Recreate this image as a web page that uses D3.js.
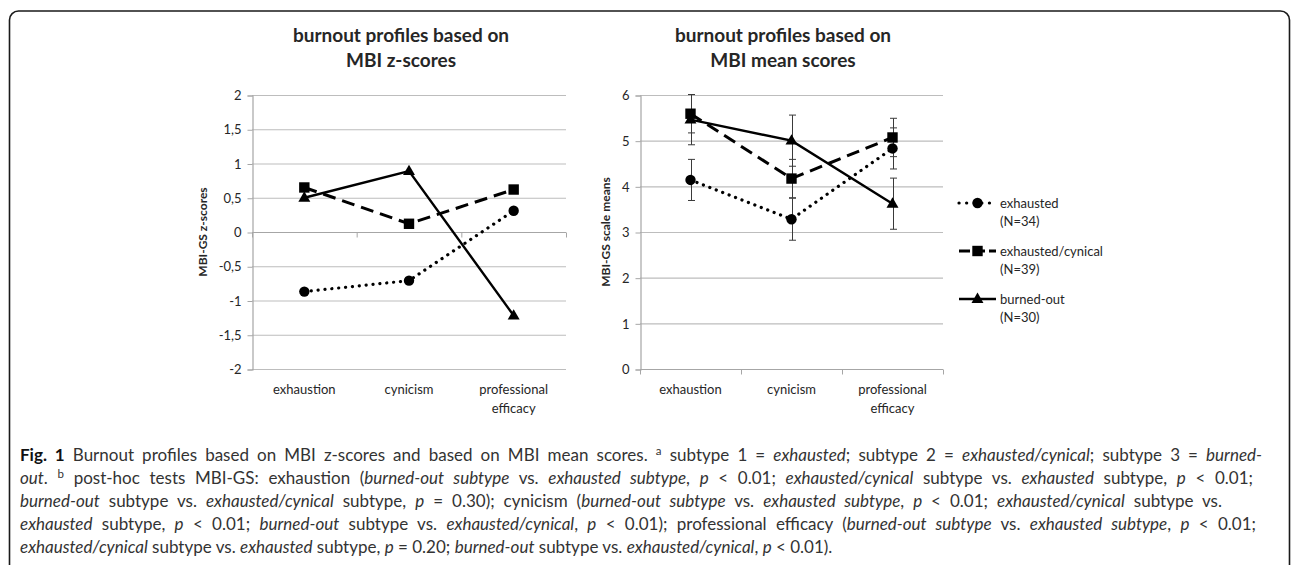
<!DOCTYPE html>
<html>
<head>
<meta charset="utf-8">
<script src="https://cdnjs.cloudflare.com/ajax/libs/d3/7.8.5/d3.min.js"></script>
<style>
  html, body { margin: 0; padding: 0; background: #fff; }
  svg { display: block; }
  .chart text { font-family: Lato, "Open Sans", sans-serif; fill: #262626; }
  .caption text { font-family: Lato, "Noto Sans", sans-serif; fill: #333; }
</style>
</head>
<body>
<svg id="fig" width="1292" height="565"></svg>
<script>
// values
var categories = ["exhaustion", "cynicism", "professional efficacy"];
var seriesNames = ["exhausted", "exhausted/cynical", "burned-out"];
var seriesN = [34, 39, 30];

// left panel: z-scores
var zExhausted = [-0.87, -0.71, 0.31];
var zExhaustedCynical = [0.65, 0.12, 0.62];
var zBurnedOut = [0.50, 0.89, -1.22];
var zTicks = [-2, -1.5, -1, -0.5, 0, 0.5, 1, 1.5, 2];

// right panel: scale means with error bars
var meanExhausted = [4.14, 3.28, 4.83];
var meanExhaustedCynical = [5.59, 4.17, 5.07];
var meanBurnedOut = [5.46, 5.00, 3.62];
var errExhausted = [0.45, 0.46, 0.45];
var errExhaustedCynical = [0.42, 0.42, 0.42];
var errBurnedOut = [0.55, 0.56, 0.56];
var meanTicks = [0, 1, 2, 3, 4, 5, 6];

// caption, line by line: [text, style]  (b = bold, i = italic, sup = superscript)
var captionLines = [
  [["Fig. 1", "b"], [" Burnout profiles based on MBI z-scores and based on MBI mean scores. "], ["a", "sup"], [" subtype 1 = "], ["exhausted", "i"], ["; subtype 2 = "], ["exhausted/cynical", "i"], ["; subtype 3 = "], ["burned-", "i"]],
  [["out", "i"], [". "], ["b", "sup"], [" post-hoc tests MBI-GS: exhaustion ("], ["burned-out subtype", "i"], [" vs. "], ["exhausted subtype", "i"], [", "], ["p", "i"], [" < 0.01; "], ["exhausted/cynical", "i"], [" subtype vs. "], ["exhausted", "i"], [" subtype, "], ["p", "i"], [" < 0.01;"]],
  [["burned-out", "i"], [" subtype vs. "], ["exhausted/cynical", "i"], [" subtype, "], ["p", "i"], [" = 0.30); cynicism ("], ["burned-out subtype", "i"], [" vs. "], ["exhausted subtype", "i"], [", "], ["p", "i"], [" < 0.01; "], ["exhausted/cynical", "i"], [" subtype vs."]],
  [["exhausted", "i"], [" subtype, "], ["p", "i"], [" < 0.01; "], ["burned-out", "i"], [" subtype vs. "], ["exhausted/cynical", "i"], [", "], ["p", "i"], [" < 0.01); professional efficacy ("], ["burned-out subtype", "i"], [" vs. "], ["exhausted subtype", "i"], [", "], ["p", "i"], [" < 0.01;"]],
  [["exhausted/cynical", "i"], [" subtype vs. "], ["exhausted", "i"], [" subtype, "], ["p", "i"], [" = 0.20; "], ["burned-out", "i"], [" subtype vs. "], ["exhausted/cynical", "i"], [", "], ["p", "i"], [" < 0.01)."]]
];
var justifyTo = [1262, 1253, 1222, 1256, null];

var svg = d3.select("#fig");

// outer frame (runs off the right and bottom edges)
svg.append("rect")
  .attr("x", 9.5).attr("y", 11)
  .attr("width", 1280).attr("height", 700)
  .attr("rx", 9).attr("ry", 9)
  .attr("fill", "none").attr("stroke", "#1a1a1a").attr("stroke-width", 1.6);

var comma = d3.formatLocale({decimal: ",", thousands: ".", grouping: [3], currency: ["", ""], minus: "-"});
var fmt = comma.format("");

var styles = [
  {dash: "0.1 6.8", width: 3.2, cap: "round", marker: "circle"},
  {dash: "13 7", width: 3, cap: "butt", marker: "square"},
  {dash: null, width: 2.4, cap: "butt", marker: "triangle"}
];

function drawMarker(g, type, x, y) {
  if (type == "circle") {
    g.append("circle").attr("cx", x).attr("cy", y).attr("r", 5.2).attr("fill", "#000");
  } else if (type == "square") {
    g.append("rect").attr("x", x - 5.2).attr("y", y - 5.2).attr("width", 10.4).attr("height", 10.4).attr("fill", "#000");
  } else {
    g.append("path").attr("d", d3.symbol(d3.symbolTriangle, 62)()).attr("transform", "translate(" + x + "," + (y + 0.5) + ")").attr("fill", "#000");
  }
}

function panel(opts) {
  var g = svg.append("g").attr("class", "chart");
  var x = d3.scaleBand().domain(categories).range([opts.left, opts.right]);
  var y = d3.scaleLinear().domain(opts.domain).range([369, 95]);

  // gridlines
  g.append("g").selectAll("line")
    .data(opts.ticks)
    .enter().append("line")
      .attr("x1", opts.left).attr("x2", opts.right)
      .attr("y1", function(d) { return y(d) + 0.5; })
      .attr("y2", function(d) { return y(d) + 0.5; })
      .attr("stroke", "#bdbdbd").attr("stroke-width", 1.2);

  // y axis
  var yAxis = d3.axisLeft(y).tickValues(opts.ticks).tickSize(5).tickPadding(6).tickFormat(fmt);
  var ya = g.append("g").attr("transform", "translate(" + (opts.left + 0.5) + ",0.5)").call(yAxis);
  ya.select(".domain").attr("stroke", "#a6a6a6").attr("stroke-width", 1.2);
  ya.selectAll(".tick line").attr("stroke", "#a6a6a6");
  ya.selectAll(".tick text").style("font-size", "13px").attr("fill", "#262626");

  // x axis line with ticks between categories
  var y0 = y(opts.xAxisAt) + 0.5;
  var bounds = categories.map(function(c) { return x(c); }).concat([opts.right]);
  g.append("line").attr("x1", opts.left).attr("x2", opts.right).attr("y1", y0).attr("y2", y0)
    .attr("stroke", "#a6a6a6").attr("stroke-width", 1.2);
  g.append("g").selectAll("line").data(bounds).enter().append("line")
    .attr("x1", function(d) { return d + 0.5; }).attr("x2", function(d) { return d + 0.5; })
    .attr("y1", y0).attr("y2", y0 + 5)
    .attr("stroke", "#a6a6a6");

  // category labels
  var lab = g.append("g").selectAll("text").data(categories).enter().append("text")
    .attr("text-anchor", "middle")
    .style("font-size", "13px")
    .attr("y", 394);
  lab.each(function(d) {
    var t = d3.select(this);
    var cx = x(d) + x.bandwidth() / 2;
    var words = d == "professional efficacy" ? ["professional", "efficacy"] : [d];
    words.forEach(function(w, i) {
      t.append("tspan").attr("x", cx).attr("dy", i ? 19 : 0).text(w);
    });
  });

  // axis title
  g.append("text")
    .attr("transform", "translate(" + opts.titleX + ",232) rotate(-90)")
    .attr("text-anchor", "middle")
    .style("font-size", "12px").style("font-weight", "bold")
    .text(opts.yTitle);

  // chart title
  var tt = g.append("text").attr("text-anchor", "middle")
    .style("font-size", "19px").style("font-weight", "bold");
  tt.append("tspan").attr("x", opts.titleCx).attr("y", 42).text("burnout profiles based on");
  tt.append("tspan").attr("x", opts.titleCx).attr("y", 67).text(opts.title);

  var cx = function(i) { return x(categories[i]) + x.bandwidth() / 2; };

  // error bars
  if (opts.errors) {
    opts.series.forEach(function(vals, s) {
      var eg = g.append("g").attr("stroke", "#3a3a3a").attr("stroke-width", 1);
      vals.forEach(function(v, i) {
        var e = opts.errors[s][i], px = Math.round(cx(i)) + 0.5;
        var top = y(v + e), bot = y(v - e);
        eg.append("line").attr("x1", px).attr("x2", px).attr("y1", top).attr("y2", bot);
        eg.append("line").attr("x1", px - 3.5).attr("x2", px + 3.5).attr("y1", top).attr("y2", top);
        eg.append("line").attr("x1", px - 3.5).attr("x2", px + 3.5).attr("y1", bot).attr("y2", bot);
      });
    });
  }

  // lines
  var line = d3.line().x(function(d, i) { return cx(i); }).y(function(d) { return y(d); });
  opts.series.forEach(function(vals, s) {
    var st = styles[s];
    g.append("path").datum(vals).attr("d", line)
      .attr("fill", "none").attr("stroke", "#000")
      .attr("stroke-width", st.width)
      .attr("stroke-linecap", st.cap)
      .attr("stroke-dasharray", st.dash);
  });
  // markers
  opts.series.forEach(function(vals, s) {
    var mg = g.append("g");
    vals.forEach(function(v, i) { drawMarker(mg, styles[s].marker, cx(i), y(v)); });
  });
}

panel({
  left: 252, right: 566, domain: [-2, 2], ticks: zTicks, xAxisAt: 0,
  series: [zExhausted, zExhaustedCynical, zBurnedOut],
  yTitle: "MBI-GS z-scores", titleX: 207, title: "MBI z-scores", titleCx: 401
});

panel({
  left: 640, right: 943, domain: [0, 6], ticks: meanTicks, xAxisAt: 0,
  series: [meanExhausted, meanExhaustedCynical, meanBurnedOut],
  errors: [errExhausted, errExhaustedCynical, errBurnedOut],
  yTitle: "MBI-GS scale means", titleX: 610, title: "MBI mean scores", titleCx: 783
});

// legend
var legend = svg.append("g").attr("class", "chart");
seriesNames.forEach(function(name, s) {
  var ly = 203 + s * 48, st = styles[s];
  var lg = legend.append("g");
  lg.append("line").attr("x1", 959).attr("x2", 996).attr("y1", ly).attr("y2", ly)
    .attr("stroke", "#000").attr("stroke-width", st.width)
    .attr("stroke-linecap", st.cap)
    .attr("stroke-dasharray", s == 0 ? "0.1 7.5" : (s == 1 ? "11 4" : null));
  drawMarker(lg, st.marker, 977.5, ly);
  var t = lg.append("text").style("font-size", "13px");
  t.append("tspan").attr("x", 1000).attr("y", ly + 4.5).text(name);
  t.append("tspan").attr("x", 1000).attr("y", ly + 23).text("(N=" + seriesN[s] + ")");
});

// caption
var cap = svg.append("g").attr("class", "caption");
captionLines.forEach(function(segs, li) {
  var t = cap.append("text").attr("x", 20).attr("y", 461 + li * 23).style("font-size", "17px");
  segs.forEach(function(sg) {
    var ts = t.append("tspan").text(sg[0]);
    if (sg[1] == "b") ts.style("font-weight", "bold").attr("fill", "#111");
    if (sg[1] == "i") ts.style("font-style", "italic");
    if (sg[1] == "sup") ts.attr("baseline-shift", "super").style("font-size", "11.5px");
  });
  if (justifyTo[li]) {
    var natural = t.node().getComputedTextLength();
    var spaces = segs.map(function(sg) { return sg[0]; }).join("").split(" ").length - 1;
    var extra = (justifyTo[li] - 20 - natural) / spaces;
    t.style("word-spacing", extra + "px");
  }
});
</script>
</body>
</html>
